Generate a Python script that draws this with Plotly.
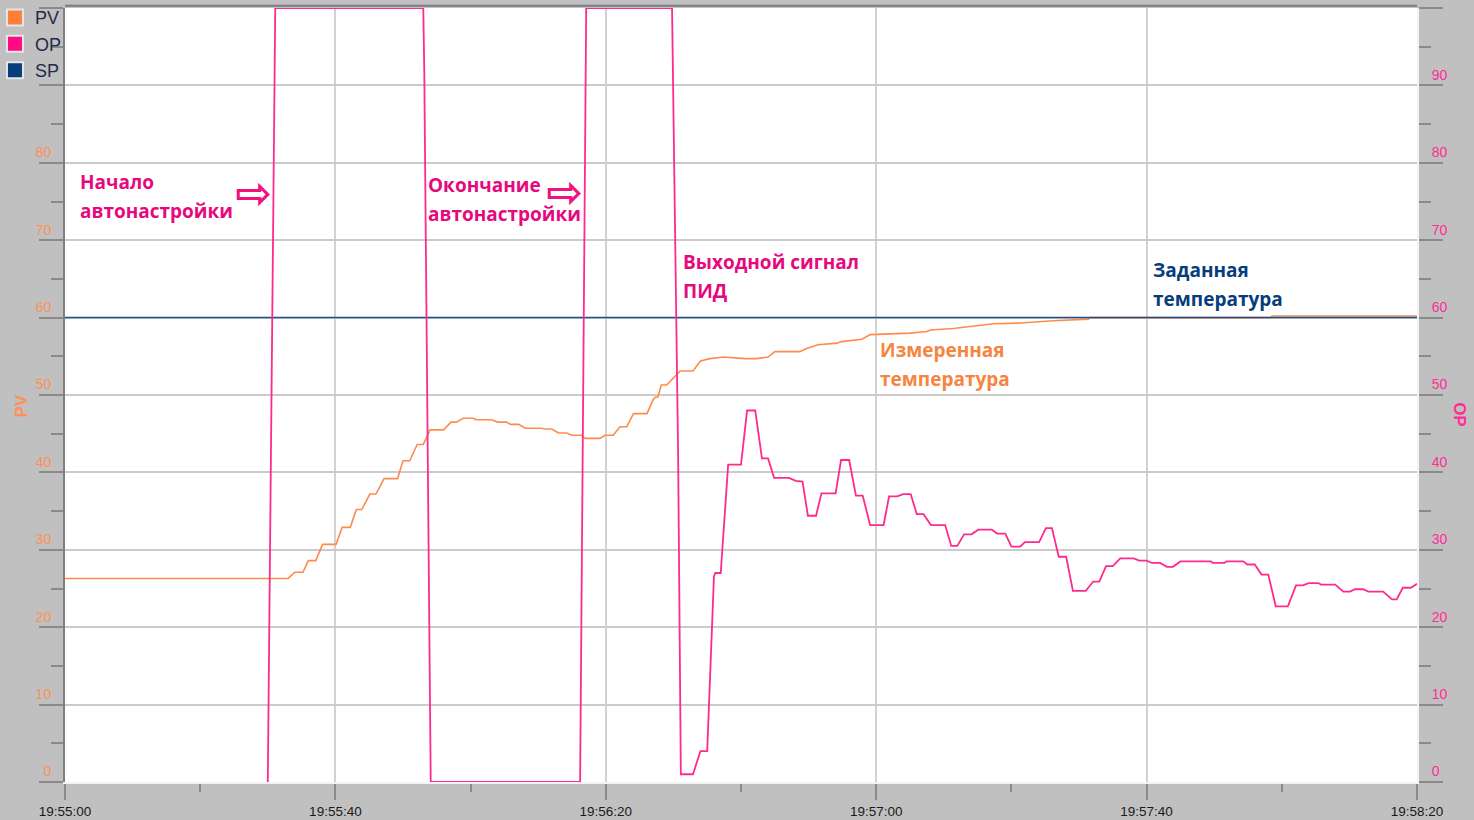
import pandas as pd
import plotly.graph_objects as go

START = "2024-01-01 19:55:00"
END = "2024-01-01 19:58:20"

# ---- data (seconds after 19:55:00, values in %) ----
pv_t = [0, 33.0, 34.0, 35.2, 36.0, 37.1, 38.1, 40.1, 41.0, 42.2, 43.1, 43.9, 45.1, 46.0,
        47.2, 49.2, 50.0, 51.0, 52.1, 53.0, 54.0, 56.0, 57.1, 57.9, 58.9, 60.4, 60.8, 63.1,
        64.0, 65.3, 65.9, 67.1, 68.1, 70.5, 71.0, 72.0, 73.0, 74.2, 75.0, 76.4, 76.9, 79.1,
        79.9, 81.1, 82.1, 83.1, 84.1, 86.1, 87.0, 87.3, 87.7, 88.2, 89.0, 91.0, 92.9, 94.0,
        95.4, 97.4, 100.6, 102.3, 104.0, 105.0, 108.7, 109.7, 111.4, 114.2, 114.9, 116.6,
        117.9, 119.1, 122.5, 125.0, 127.5, 128.0, 131.4, 134.4, 137.3, 141.3, 146.2, 151.4,
        151.6, 178.3, 178.6, 200]
pv_v = [26.3, 26.3, 27.1, 27.1, 28.6, 28.6, 30.7, 30.7, 32.9, 32.9, 35.2, 35.2, 37.2, 37.2,
        39.2, 39.2, 41.5, 41.5, 43.6, 43.6, 45.5, 45.5, 46.5, 46.5, 47.0, 47.0, 46.8, 46.8,
        46.5, 46.5, 46.2, 46.2, 45.7, 45.7, 45.6, 45.6, 45.1, 45.1, 44.8, 44.8, 44.4, 44.4,
        44.8, 44.8, 45.9, 45.9, 47.6, 47.6, 49.4, 49.7, 49.7, 51.3, 51.3, 53.1, 53.1, 54.4,
        54.7, 54.9, 54.7, 54.7, 54.9, 55.6, 55.6, 56.0, 56.5, 56.7, 56.9, 57.1,
        57.2, 57.8, 57.9, 58.0, 58.2, 58.4, 58.6, 58.9, 59.2, 59.3, 59.6, 59.8,
        60.0, 60.0, 60.2, 60.2]

op_t = [30.0, 31.1, 53.0, 53.15, 54.1, 76.2, 77.1, 89.8, 90.7, 91.1, 92.9, 94.0, 95.0, 96.0,
        96.2, 97.0, 98.1, 100.0, 100.9, 102.1, 103.1, 104.0, 104.9, 107.1, 108.1, 109.1,
        109.9, 111.1, 111.9, 114.0, 114.8, 116.0, 117.0, 118.0, 119.1, 121.1, 121.9, 123.1,
        124.0, 125.1, 126.0, 127.0, 128.1, 130.2, 131.1, 132.0, 133.0, 134.1, 135.1, 137.1,
        137.9, 139.1, 140.0, 141.3, 142.0, 144.1, 145.1, 146.0, 147.0, 148.1, 149.1, 151.0,
        152.1, 153.0, 154.0, 155.0, 156.1, 158.1, 158.9, 160.0, 160.8, 162.0, 163.0, 163.9,
        165.0, 169.5, 169.8, 171.5, 171.8, 174.3, 174.9, 176.0, 177.0, 178.0, 179.1, 180.9,
        182.1, 183.1, 184.0, 185.4, 185.8, 187.9, 189.1, 190.1, 190.8, 192.0, 192.8, 195.0,
        196.3, 197.0, 197.9, 199.1, 200.0]
op_v = [0, 100, 100, 91.7, 0, 0, 100, 100, 42.2, 1.0, 1.0, 4.0, 4.0, 26.6,
        27.0, 27.0, 41.0, 41.0, 48.0, 48.0, 41.8, 41.8, 39.3, 39.3, 38.9, 38.8,
        34.4, 34.4, 37.3, 37.3, 41.6, 41.6, 37.0, 37.0, 33.2, 33.2, 36.9, 36.9,
        37.2, 37.2, 34.6, 34.6, 33.2, 33.2, 30.5, 30.5, 32.0, 32.0, 32.6, 32.6,
        32.1, 32.1, 30.4, 30.4, 31.0, 31.0, 32.8, 32.8, 29.1, 29.1, 24.7, 24.7,
        25.9, 25.9, 27.9, 27.9, 28.9, 28.9, 28.6, 28.6, 28.3, 28.3, 27.8, 27.8,
        28.5, 28.5, 28.3, 28.3, 28.5, 28.5, 28.1, 28.1, 26.8, 26.8, 22.7, 22.7,
        25.4, 25.4, 25.7, 25.7, 25.5, 25.5, 24.6, 24.6, 24.9, 24.9, 24.6, 24.6,
        23.6, 23.6, 25.1, 25.1, 25.6]

sp_t = [0, 200]
sp_v = [60, 60]

y_ticks = list(range(0, 101, 10))
left_labels = [str(v) if v <= 80 else "" for v in y_ticks]
right_labels = [str(v) if v <= 90 else "" for v in y_ticks]

# annotation lines: (text, seconds, value, color)
PINK_T = "#e6097e"
notes = [
    ("Начало", 1.9, 77.5, PINK_T),
    ("автонастройки", 1.9, 73.8, PINK_T),
    ("Окончание", 53.4, 77.1, PINK_T),
    ("автонастройки", 53.4, 73.4, PINK_T),
    ("Выходной сигнал", 91.1, 67.2, PINK_T),
    ("ПИД", 91.1, 63.4, PINK_T),
    ("Заданная", 160.6, 66.1, "#063d7a"),
    ("температура", 160.6, 62.4, "#063d7a"),
    ("Измеренная", 120.3, 55.8, "#f5853f"),
    ("температура", 120.3, 52.1, "#f5853f"),
]
arrows = [(27.9, 76.1), (73.9, 76.3)]

# ---- figure ----
base = pd.Timestamp(START)
def tt(sec):
    return base + pd.to_timedelta(sec, unit="s")

PV_C = "#ff8a4c"
OP_C = "#ff2a8e"
SP_C = "#1d4f8f"

fig = go.Figure()
fig.add_trace(go.Scatter(x=tt(pd.Series(pv_t)), y=pv_v, mode="lines", name="PV",
                         line=dict(color=PV_C, width=1.6), showlegend=False))
fig.add_trace(go.Scatter(x=tt(pd.Series(sp_t)), y=sp_v, mode="lines", name="SP",
                         line=dict(color=SP_C, width=1.5), showlegend=False))
fig.add_trace(go.Scatter(x=tt(pd.Series(op_t)), y=op_v, mode="lines", name="OP",
                         line=dict(color=OP_C, width=1.8), yaxis="y2", showlegend=False))

for nm, col in [("PV", "#ff7f3a"), ("OP", "#ff0a84"), ("SP", "#063d7a")]:
    fig.add_trace(go.Scatter(x=[None], y=[None], mode="markers", name=nm, legendgroup=nm,
                             marker=dict(symbol="square", size=16, color=col,
                                         line=dict(color="#e6e6e6", width=2))))

for text, s, v, col in notes:
    fig.add_annotation(x=tt(s), y=v, text="<b>" + text + "</b>", showarrow=False,
                       xanchor="left", yanchor="middle", align="left",
                       font=dict(family="Open Sans", size=19, color=col))
for s, v in arrows:
    fig.add_annotation(x=tt(s), y=v, text="<b>⇨</b>", showarrow=False, xanchor="center",
                       yanchor="middle", font=dict(family="DejaVu Sans", size=44, color="#f0127f"))

fig.add_annotation(x=-0.0318, y=0.485, xref="paper", yref="paper", text="<b>PV</b>",
                   textangle=-90, showarrow=False, xanchor="center", yanchor="middle",
                   font=dict(family="Liberation Sans", size=17, color="#ff9055"))
fig.add_annotation(x=1.0318, y=0.474, xref="paper", yref="paper", text="<b>OP</b>",
                   textangle=90, showarrow=False, xanchor="center", yanchor="middle",
                   font=dict(family="Liberation Sans", size=17, color="#ff2d96"))

fig.add_shape(type="line", xref="paper", yref="paper", x0=0, x1=1, y0=1.0028, y1=1.0028,
              line=dict(color="#7a7a7a", width=2))

fig.update_layout(
    width=1474, height=820,
    margin=dict(l=65, r=57, t=8, b=38, autoexpand=False),
    paper_bgcolor="#c0c0c0", plot_bgcolor="#ffffff",
    showlegend=True,
    legend=dict(x=-0.0518, y=1.0114, xanchor="left", yanchor="top", bgcolor="rgba(0,0,0,0)",
                font=dict(family="Liberation Sans", size=18, color="#222b48"),
                tracegroupgap=0, itemclick=False),
    xaxis=dict(type="date", range=[START, END], tick0=START, dtick=40000,
               tickformat="%H:%M:%S", showgrid=True, gridcolor="#d2d2d2", gridwidth=1.5,
               ticks="outside", ticklen=16, tickcolor="#8a8a8a", tickwidth=1.5,
               layer="above traces",
               tickfont=dict(family="Liberation Sans", size=13.5, color="#1a1a1a"),
               showline=True, linecolor="#f4f4f4", linewidth=2, zeroline=False,
               minor=dict(dtick=20000, ticks="outside", ticklen=8, tickcolor="#8a8a8a",
                          tickwidth=1.5, showgrid=False)),
    yaxis=dict(range=[0, 100], tickvals=y_ticks, ticktext=left_labels,
               showgrid=True, gridcolor="#cbcbcb", gridwidth=1.5, zeroline=False,
               ticks="outside", ticklen=24, tickcolor="#8a8a8a", tickwidth=1.5,
               ticklabelposition="outside top", ticklabelstandoff=9,
               tickfont=dict(family="Liberation Sans", size=14, color="#ff9055"),
               showline=True, linecolor="#808080", linewidth=2,
               minor=dict(dtick=5, ticks="outside", ticklen=12, tickcolor="#8a8a8a",
                          tickwidth=1.5, showgrid=False)),
    yaxis2=dict(range=[0, 100], overlaying="y", side="right", tickvals=y_ticks,
                ticktext=right_labels, showgrid=False, zeroline=False,
                ticks="outside", ticklen=24, tickcolor="#8a8a8a", tickwidth=1.5,
                ticklabelposition="outside top", ticklabelstandoff=10,
                tickfont=dict(family="Liberation Sans", size=14, color="#ff2d96"),
                showline=True, linecolor="#f4f4f4", linewidth=2,
                minor=dict(dtick=5, ticks="outside", ticklen=12, tickcolor="#8a8a8a",
                           tickwidth=1.5, showgrid=False)),
)

fig.write_html("out.html", config={"displayModeBar": False},
               post_script="document.body.style.margin='0px';")
